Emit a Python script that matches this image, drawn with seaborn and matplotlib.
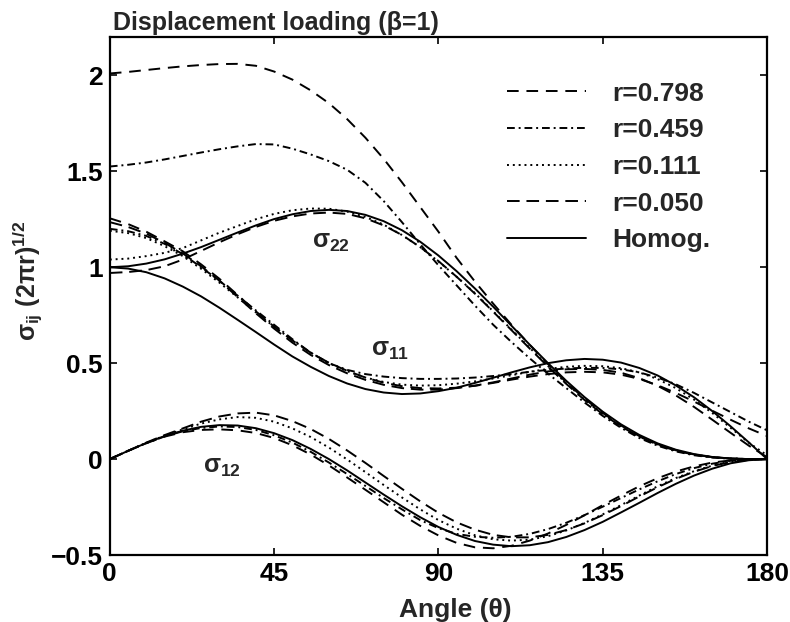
import numpy as np
import pandas as pd
import matplotlib
matplotlib.use("Agg")
import matplotlib.pyplot as plt
from matplotlib.lines import Line2D
import seaborn as sns

# Polar angle (degrees) at which the stresses were sampled
theta = [0, 5, 10, 15, 20, 25, 30, 35, 40, 45, 50, 55, 60, 65, 70, 75, 80, 85, 90,
         95, 100, 105, 110, 115, 120, 125, 130, 135, 140, 145, 150, 155, 160, 165,
         170, 175, 180]

series = ["r=0.798", "r=0.459", "r=0.111", "r=0.050", "Homog."]

# Normalised opening stress sigma_22 (2 pi r)^1/2
s22_r0798 = [2.010, 2.018, 2.028, 2.038, 2.047, 2.054, 2.059, 2.060, 2.050, 2.020, 1.978, 1.922,
             1.855, 1.772, 1.675, 1.565, 1.443, 1.314, 1.185, 1.048, 0.925, 0.810, 0.700,
             0.595, 0.495, 0.400, 0.315, 0.240, 0.175, 0.120, 0.078, 0.046, 0.024, 0.010,
             0.003, 0.000, 0.000]
s22_r0459 = [1.525, 1.534, 1.546, 1.562, 1.580, 1.598, 1.615, 1.630, 1.642, 1.640, 1.618, 1.588,
             1.553, 1.508, 1.440, 1.345, 1.235, 1.120, 1.010, 0.905, 0.800, 0.700, 0.610,
             0.525, 0.445, 0.370, 0.295, 0.225, 0.163, 0.110, 0.070, 0.040, 0.020, 0.008,
             0.002, 0.000, 0.000]
s22_r0111 = [1.040, 1.045, 1.058, 1.075, 1.100, 1.140, 1.180, 1.215, 1.250, 1.278, 1.297, 1.306,
             1.305, 1.290, 1.262, 1.222, 1.168, 1.105, 1.030, 0.950, 0.865, 0.770, 0.675,
             0.580, 0.485, 0.395, 0.310, 0.235, 0.170, 0.117, 0.075, 0.044, 0.023, 0.010,
             0.003, 0.000, 0.000]
s22_r0050 = [0.970, 0.975, 0.985, 1.005, 1.040, 1.085, 1.130, 1.172, 1.210, 1.242, 1.265, 1.280,
             1.285, 1.278, 1.255, 1.218, 1.168, 1.105, 1.032, 0.950, 0.862, 0.768, 0.672,
             0.576, 0.482, 0.392, 0.308, 0.234, 0.170, 0.117, 0.075, 0.044, 0.023, 0.010,
             0.003, 0.000, 0.000]
s22_homog = [1.000, 1.005, 1.019, 1.041, 1.071, 1.105, 1.143, 1.181, 1.218, 1.251, 1.276, 1.293,
             1.299, 1.293, 1.273, 1.240, 1.193, 1.133, 1.061, 0.979, 0.889, 0.794, 0.695,
             0.596, 0.500, 0.408, 0.323, 0.247, 0.181, 0.126, 0.082, 0.049, 0.026, 0.011,
             0.003, 0.000, 0.000]

# Normalised in-plane stress sigma_11 (2 pi r)^1/2
s11_r0798 = [1.255, 1.225, 1.185, 1.135, 1.083, 1.015, 0.940, 0.855, 0.770, 0.690, 0.618, 0.555,
             0.502, 0.460, 0.425, 0.398, 0.380, 0.370, 0.368, 0.372, 0.382, 0.397, 0.414,
             0.430, 0.443, 0.452, 0.455, 0.452, 0.440, 0.418, 0.385, 0.345, 0.300, 0.252,
             0.205, 0.160, 0.120]
s11_r0459 = [1.200, 1.188, 1.163, 1.122, 1.068, 1.000, 0.930, 0.852, 0.775, 0.700, 0.625, 0.555,
             0.500, 0.465, 0.443, 0.430, 0.422, 0.418, 0.418, 0.420, 0.425, 0.433, 0.443,
             0.455, 0.465, 0.472, 0.476, 0.475, 0.468, 0.452, 0.425, 0.390, 0.345, 0.295,
             0.245, 0.195, 0.150]
s11_r0111 = [1.190, 1.178, 1.152, 1.110, 1.058, 0.992, 0.920, 0.843, 0.765, 0.690, 0.620, 0.555,
             0.500, 0.458, 0.425, 0.402, 0.388, 0.383, 0.385, 0.393, 0.405, 0.420, 0.437,
             0.455, 0.470, 0.481, 0.486, 0.484, 0.474, 0.452, 0.417, 0.370, 0.310, 0.240,
             0.163, 0.085, 0.020]
s11_r0050 = [1.235, 1.210, 1.175, 1.127, 1.072, 1.005, 0.930, 0.845, 0.760, 0.680, 0.607, 0.543,
             0.490, 0.447, 0.413, 0.387, 0.370, 0.362, 0.362, 0.370, 0.383, 0.400, 0.420,
             0.440, 0.457, 0.468, 0.470, 0.465, 0.450, 0.422, 0.382, 0.332, 0.272, 0.205,
             0.137, 0.070, 0.010]
s11_homog = [1.000, 0.993, 0.974, 0.942, 0.899, 0.848, 0.789, 0.726, 0.662, 0.597, 0.535, 0.481,
             0.433, 0.394, 0.365, 0.347, 0.339, 0.342, 0.354, 0.372, 0.397, 0.424, 0.452,
             0.478, 0.500, 0.515, 0.522, 0.518, 0.503, 0.475, 0.436, 0.384, 0.322, 0.250,
             0.171, 0.087, 0.000]

# Normalised shear stress sigma_12 (2 pi r)^1/2
s12_r0798 = [0.000, 0.043, 0.083, 0.117, 0.140, 0.152, 0.155, 0.150, 0.136, 0.110, 0.072, 0.024,
             -0.033, -0.096, -0.160, -0.225, -0.290, -0.348, -0.398, -0.437, -0.460, -0.465,
             -0.452, -0.425, -0.388, -0.343, -0.293, -0.240, -0.190, -0.142, -0.100, -0.065,
             -0.038, -0.018, -0.007, -0.002, 0.000]
s12_r0459 = [0.000, 0.043, 0.083, 0.118, 0.145, 0.162, 0.170, 0.167, 0.152, 0.124, 0.086, 0.038,
             -0.018, -0.078, -0.140, -0.203, -0.262, -0.318, -0.360, -0.390, -0.405, -0.410,
             -0.405, -0.390, -0.365, -0.332, -0.292, -0.248, -0.203, -0.158, -0.116, -0.078,
             -0.047, -0.024, -0.009, -0.002, 0.000]
s12_r0111 = [0.000, 0.043, 0.085, 0.122, 0.155, 0.185, 0.207, 0.219, 0.215, 0.195, 0.160, 0.115,
             0.060, -0.002, -0.068, -0.135, -0.200, -0.262, -0.318, -0.363, -0.397, -0.418,
             -0.425, -0.420, -0.402, -0.372, -0.333, -0.288, -0.240, -0.190, -0.142, -0.099,
             -0.063, -0.034, -0.014, -0.003, 0.000]
s12_r0050 = [0.000, 0.043, 0.086, 0.125, 0.160, 0.195, 0.222, 0.238, 0.242, 0.228, 0.198, 0.157,
             0.105, 0.045, -0.020, -0.088, -0.155, -0.220, -0.280, -0.330, -0.368, -0.395,
             -0.408, -0.408, -0.395, -0.370, -0.335, -0.292, -0.245, -0.195, -0.147, -0.103,
             -0.066, -0.036, -0.015, -0.004, 0.000]
s12_homog = [0.000, 0.043, 0.084, 0.120, 0.148, 0.168, 0.177, 0.175, 0.161, 0.135, 0.099, 0.053,
             0.000, -0.059, -0.122, -0.185, -0.246, -0.303, -0.354, -0.395, -0.427, -0.446,
             -0.454, -0.449, -0.433, -0.406, -0.370, -0.327, -0.278, -0.228, -0.177, -0.129,
             -0.086, -0.050, -0.022, -0.006, 0.000]

xticks = [0, 45, 90, 135, 180]
yticks = [-0.5, 0, 0.5, 1, 1.5, 2]
ytick_labels = ["\u22120.5", "0", "0.5", "1", "1.5", "2"]

components = {
    "s22": [s22_r0798, s22_r0459, s22_r0111, s22_r0050, s22_homog],
    "s11": [s11_r0798, s11_r0459, s11_r0111, s11_r0050, s11_homog],
    "s12": [s12_r0798, s12_r0459, s12_r0111, s12_r0050, s12_homog],
}

rows = []
for comp, curves in components.items():
    for name, vals in zip(series, curves):
        for t, v in zip(theta, vals):
            rows.append({"theta": t, "stress": v, "series": name, "component": comp})
df = pd.DataFrame(rows)

sns.set_theme(style="ticks")
plt.rcParams["font.family"] = ["Liberation Sans", "DejaVu Sans"]
plt.rcParams["font.weight"] = "bold"
plt.rcParams["mathtext.fontset"] = "custom"
plt.rcParams["mathtext.rm"] = "Liberation Sans:bold"
plt.rcParams["mathtext.it"] = "Liberation Sans:bold"
plt.rcParams["mathtext.bf"] = "Liberation Sans:bold"

FS = 19
dash_map = {
    "r=0.798": (6, 4),
    "r=0.459": (4, 2, 1, 2),
    "r=0.111": (1, 2),
    "r=0.050": (6.5, 3.5),
    "Homog.": "",
}
LW = 1.4

fig = plt.figure(figsize=(7.9, 6.22), dpi=100)
ax = fig.add_axes([0.139, 0.1077, 0.832, 0.8328])

sns.lineplot(data=df, x="theta", y="stress", style="series", units="component",
             estimator=None, color="black", dashes=dash_map, style_order=series,
             linewidth=LW, legend=False, sort=False, ax=ax)

ax.set_xlim(0, 180)
ax.set_ylim(-0.5, 2.2)
ax.set_xticks(xticks)
ax.set_xticklabels([str(t) for t in xticks], fontsize=FS, fontweight="bold")
ax.set_yticks(yticks)
ax.set_yticklabels(ytick_labels, fontsize=FS, fontweight="bold")
ax.tick_params(direction="in", length=5, width=1.2, top=True, right=True,
               colors="black", pad=5)
for sp in ax.spines.values():
    sp.set_visible(True)
    sp.set_linewidth(1.6)
    sp.set_color("black")

ax.set_xlabel("Angle (\u03b8)", fontsize=FS, fontweight="bold")
ax.xaxis.set_label_coords(0.525, -0.083)
ax.set_ylabel(r"$\sigma_{ij}\ (2\pi r)^{1/2}$", fontsize=18)
ax.yaxis.set_label_coords(-0.100, 0.53)

fig.text(0.143, 1 - 30 / 622, "Displacement loading (\u03b2=1)", fontsize=18,
         fontweight="bold", ha="left", va="baseline")

ax.text(55.5, 1.13, r"$\sigma_{22}$", fontsize=18, ha="left", va="center")
ax.text(71.5, 0.57, r"$\sigma_{11}$", fontsize=18, ha="left", va="center")
ax.text(25.5, -0.04, r"$\sigma_{12}$", fontsize=18, ha="left", va="center")

handles = []
for name in series:
    d = dash_map[name]
    ls = "-" if d == "" else (0, d)
    handles.append(Line2D([], [], color="black", linewidth=LW, linestyle=ls))
leg = ax.legend(handles, series, loc="upper left", bbox_to_anchor=(0.604, 0.914),
                frameon=False, fontsize=FS, handlelength=3.0, handletextpad=1.0,
                labelspacing=0.48, borderpad=0, borderaxespad=0)
for t in leg.get_texts():
    t.set_fontweight("bold")

fig.savefig("out.png", dpi=100, facecolor="white")
